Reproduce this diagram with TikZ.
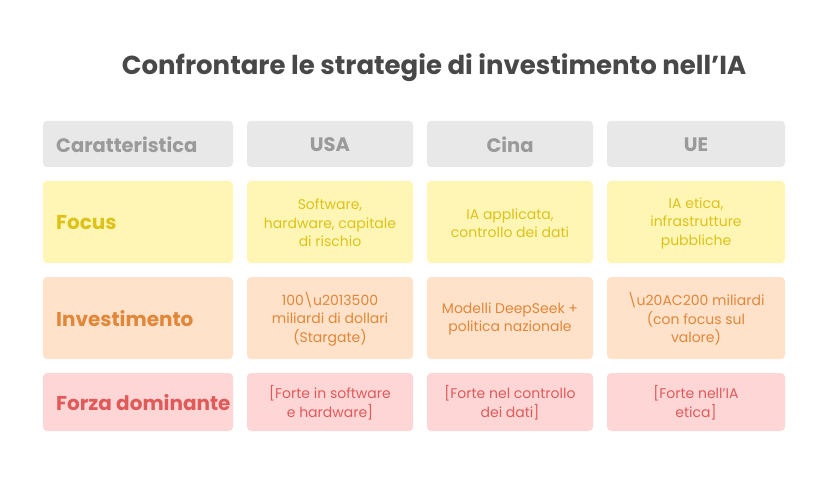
\documentclass[tikz,border=0pt]{standalone}
\usepackage{fontspec}
\setmainfont{Poppins}
\definecolor{hdrfill}{HTML}{E8E8E8}
\definecolor{hdrtext}{HTML}{9A9A9A}
\definecolor{fofill}{HTML}{FFF6B5}
\definecolor{fotext}{HTML}{DDC21A}
\definecolor{infill}{HTML}{FFE2C9}
\definecolor{intext}{HTML}{E0873A}
\definecolor{frfill}{HTML}{FFD6D6}
\definecolor{frtext}{HTML}{E05A5A}
\definecolor{titletext}{HTML}{484848}
\begin{document}
\begin{tikzpicture}[x=1pt,y=-1pt,
  cell/.style={rounded corners=4pt, inner sep=0pt},
  celltxt/.style={align=center, inner sep=0pt, font=\fontsize{14}{18.5}\selectfont},
  lbltxt/.style={anchor=west, inner sep=0pt, font=\fontsize{20}{22}\selectfont\bfseries},
  hdrtxt/.style={inner sep=0pt, font=\fontsize{19.5}{22}\selectfont\bfseries, text=hdrtext}]
\useasboundingbox[fill=white] (0,0) rectangle (828,492);
\node[font=\fontsize{26}{30}\selectfont\bfseries, text=titletext] (title) at (434,68) {Confrontare le strategie di investimento nell'IA};
% header row
\foreach \xa/\xb in {43/233,247/413,427/593,607/785}{
  \path[fill=hdrfill, cell] (\xa,121) rectangle (\xb,167);
}
\node[hdrtxt, anchor=west] (hA) at (56,145) {Caratteristica};
\node[hdrtxt] (hB) at (330,145) {USA};
\node[hdrtxt] (hC) at (510,145) {Cina};
\node[hdrtxt] (hD) at (696,145) {UE};
% Focus row
\foreach \xa/\xb in {43/233,247/413,427/593,607/785}{
  \path[fill=fofill, cell] (\xa,181) rectangle (\xb,263);
}
\node[lbltxt, text=fotext] (fA) at (56,223) {Focus};
\node[celltxt, text=fotext] (fB) at (330,223) {Software,\\hardware, capitale\\di rischio};
\node[celltxt, text=fotext] (fC) at (510,223) {IA applicata,\\controllo dei dati};
\node[celltxt, text=fotext] (fD) at (696,223) {IA etica,\\infrastrutture\\pubbliche};
% Investimento row
\foreach \xa/\xb in {43/233,247/413,427/593,607/785}{
  \path[fill=infill, cell] (\xa,277) rectangle (\xb,359);
}
\node[lbltxt, text=intext] (iA) at (56,319) {Investimento};
\node[celltxt, text=intext] (iB) at (330,319) {100\textbackslash u2013500\\miliardi di dollari\\(Stargate)};
\node[celltxt, text=intext] (iC) at (510,319) {Modelli DeepSeek +\\politica nazionale};
\node[celltxt, text=intext] (iD) at (696,319) {\textbackslash u20AC200 miliardi\\(con focus sul\\valore)};
% Forza row
\foreach \xa/\xb in {43/233,247/413,427/593,607/785}{
  \path[fill=frfill, cell] (\xa,373) rectangle (\xb,431);
}
\node[lbltxt, text=frtext] (rA) at (56,403) {Forza dominante};
\node[celltxt, text=frtext] (rB) at (330,403) {[Forte in software\\e hardware]};
\node[celltxt, text=frtext] (rC) at (510,403) {[Forte nel controllo\\dei dati]};
\node[celltxt, text=frtext] (rD) at (696,403) {[Forte nell'IA\\etica]};
\end{tikzpicture}
\end{document}
